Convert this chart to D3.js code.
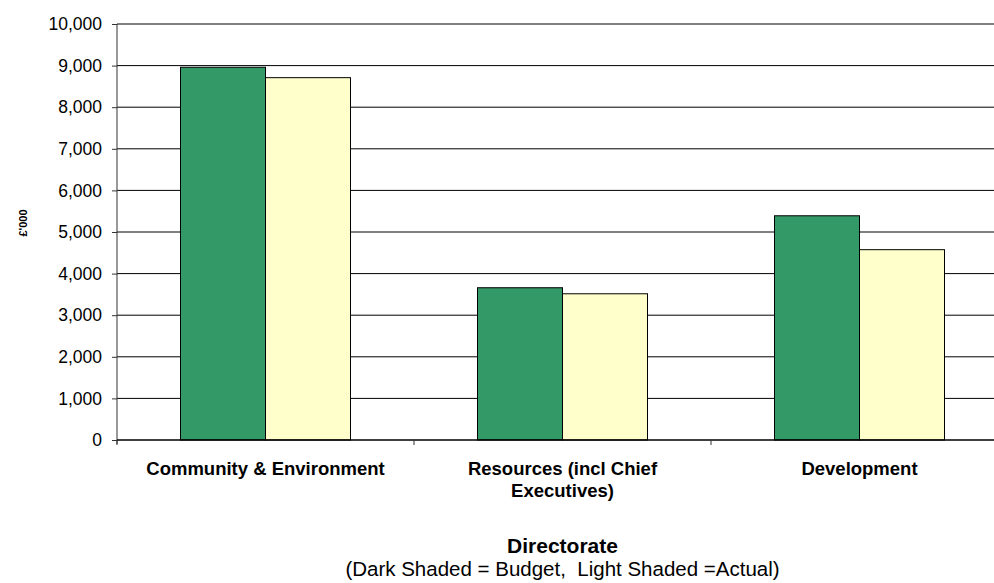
<!DOCTYPE html>
<html>
<head>
<meta charset="utf-8">
<script src="https://d3js.org/d3.v7.min.js"></script>
<style>
  body { margin: 0; background: #fff; }
  text { font-family: "Liberation Sans", Arial, sans-serif; fill: #000; }
</style>
</head>
<body>
<svg width="994" height="583"></svg>
<script>
// directorates and spend (£'000)
var categories = ["Community & Environment", "Resources (incl Chief Executives)", "Development"];
var categoryLines = [["Community & Environment"], ["Resources (incl Chief", "Executives)"], ["Development"]];
var seriesNames = ["Budget", "Actual"];
var budget = [8960, 3660, 5390];
var actual = [8710, 3515, 4575];
var yTicks = [0, 1000, 2000, 3000, 4000, 5000, 6000, 7000, 8000, 9000, 10000];

var colors = { Budget: "#339966", Actual: "#ffffcc" };

// note: "top" is reserved on window, so plotTop/plotBottom
var svg = d3.select("svg"),
    plotLeft = 117, plotTop = 24, plotBottom = 440,
    bandW = 297;

var x = d3.scaleBand()
    .domain(categories)
    .range([plotLeft, plotLeft + bandW * categories.length])
    .padding(0);

var xSeries = d3.scaleBand()
    .domain(seriesNames)
    .range([63.5, bandW - 63.5])
    .padding(0);

var y = d3.scaleLinear()
    .domain([0, 10000])
    .range([plotBottom, plotTop]);

// gridlines
svg.append("g")
    .selectAll("line")
    .data(yTicks.filter(function(d) { return d > 0; }))
    .enter().append("line")
    .attr("x1", plotLeft)
    .attr("x2", plotLeft + bandW * categories.length)
    .attr("y1", function(d) { return y(d); })
    .attr("y2", function(d) { return y(d); })
    .attr("stroke", "#000")
    .attr("stroke-width", 1);

// bars
var rows = categories.map(function(c, i) {
    return { cat: c, values: [{ s: "Budget", v: budget[i] }, { s: "Actual", v: actual[i] }] };
});

var groups = svg.append("g")
    .selectAll("g")
    .data(rows)
    .enter().append("g")
    .attr("transform", function(d) { return "translate(" + x(d.cat) + ",0)"; });

groups.selectAll("rect")
    .data(function(d) { return d.values; })
    .enter().append("rect")
    .attr("x", function(d) { return xSeries(d.s); })
    .attr("width", xSeries.bandwidth())
    .attr("y", function(d) { return y(d.v); })
    .attr("height", function(d) { return y(0) - y(d.v); })
    .attr("fill", function(d) { return colors[d.s]; })
    .attr("stroke", "#000")
    .attr("stroke-width", 1);

// y axis
var yAxis = svg.append("g")
    .attr("transform", "translate(" + plotLeft + ",0)")
    .call(d3.axisLeft(y)
        .tickValues(yTicks)
        .tickSize(5)
        .tickPadding(10)
        .tickFormat(d3.format(",")));
yAxis.select(".domain").remove();
yAxis.append("line")
    .attr("x1", 0).attr("x2", 0)
    .attr("y1", plotTop).attr("y2", plotBottom + 4)
    .attr("stroke", "#333");
yAxis.selectAll(".tick line").attr("stroke", "#333");
yAxis.selectAll(".tick text")
    .style("font-family", "'Liberation Sans', Arial, sans-serif")
    .style("font-size", "17.5px")
    .attr("fill", "#000");

// x axis
var xAxis = svg.append("g")
    .attr("transform", "translate(0," + plotBottom + ")");
xAxis.append("line")
    .attr("x1", plotLeft).attr("x2", plotLeft + bandW * categories.length)
    .attr("y1", 0).attr("y2", 0)
    .attr("stroke", "#000")
    .attr("stroke-width", 1.5);
xAxis.selectAll(".xt")
    .data(d3.range(categories.length + 1))
    .enter().append("line")
    .attr("class", "xt")
    .attr("x1", function(i) { return plotLeft + bandW * i; })
    .attr("x2", function(i) { return plotLeft + bandW * i; })
    .attr("y1", 0).attr("y2", 5)
    .attr("stroke", "#333");

xAxis.selectAll(".cat")
    .data(categories)
    .enter().append("text")
    .attr("class", "cat")
    .attr("x", function(d) { return x(d) + x.bandwidth() / 2; })
    .attr("y", 35)
    .attr("text-anchor", "middle")
    .style("font-size", "18.5px")
    .style("font-weight", "bold")
    .each(function(d, i) {
        var t = d3.select(this);
        categoryLines[i].forEach(function(line, j) {
            t.append("tspan")
                .attr("x", x(d) + x.bandwidth() / 2)
                .attr("dy", j === 0 ? 0 : 22)
                .text(line);
        });
    });

// titles
svg.append("text")
    .attr("transform", "translate(27,223) rotate(-90)")
    .attr("text-anchor", "middle")
    .style("font-size", "11px")
    .style("font-weight", "bold")
    .text("£'000");

svg.append("text")
    .attr("x", 562.5)
    .attr("y", 553)
    .attr("text-anchor", "middle")
    .style("font-size", "21px")
    .style("font-weight", "bold")
    .text("Directorate");

svg.append("text")
    .attr("x", 562.5)
    .attr("y", 576)
    .attr("text-anchor", "middle")
    .style("font-size", "20.5px")
    .style("white-space", "pre")
    .text("(Dark Shaded = Budget,  Light Shaded =Actual)");
</script>
</body>
</html>
